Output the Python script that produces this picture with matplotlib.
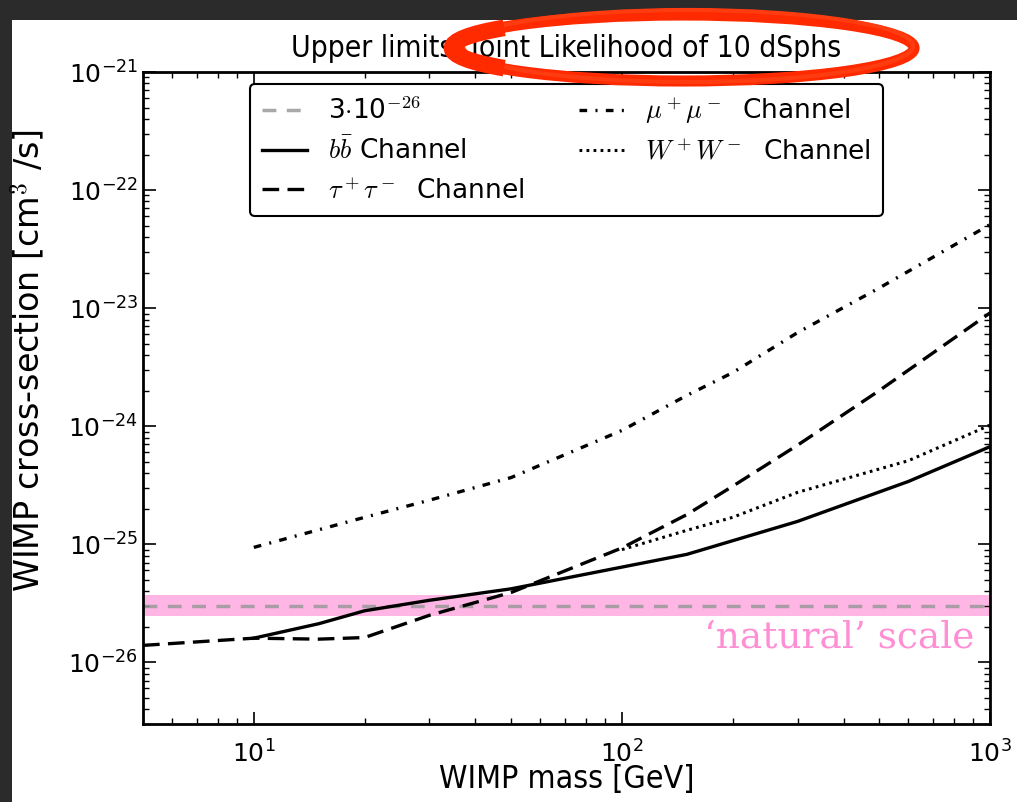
import matplotlib
matplotlib.use("Agg")
import matplotlib.pyplot as plt
from matplotlib.patches import Arc, Ellipse, Rectangle

plt.rcParams["mathtext.fontset"] = "cm"
plt.rcParams["font.family"] = "DejaVu Sans"

# upper limits (WIMP mass in GeV, cross-section in cm^3/s)
mass_bb = [10, 15, 20, 30, 50, 100, 150, 300, 600, 1000]
sigma_bb = [1.6e-26, 2.12e-26, 2.73e-26, 3.35e-26, 4.19e-26, 6.4e-26, 8.2e-26, 1.56e-25, 3.4e-25, 6.7e-25]

mass_tau = [5, 10, 15, 20, 30, 50, 100, 150, 200, 300, 500, 1000]
sigma_tau = [1.39e-26, 1.6e-26, 1.57e-26, 1.62e-26, 2.5e-26, 3.9e-26, 9.3e-26, 1.78e-25, 3.1e-25, 6.9e-25, 2.0e-24, 9.1e-24]

mass_mumu = [10, 20, 30, 50, 100, 150, 200, 300, 500, 1000]
sigma_mumu = [9.4e-26, 1.69e-25, 2.36e-25, 3.67e-25, 9.2e-25, 1.82e-24, 2.84e-24, 6.2e-24, 1.48e-23, 5.1e-23]

mass_ww = [100, 150, 200, 300, 600, 1000]
sigma_ww = [9.0e-26, 1.31e-25, 1.69e-25, 2.75e-25, 5.1e-25, 1.02e-24]

natural_xsec = 3e-26
band_low, band_high = 2.45e-26, 3.75e-26

fig = plt.figure(figsize=(10.17, 8.02), dpi=100, facecolor="#2b2b2b")
fig.patches.append(Rectangle((12 / 1017, 0), 1, 1 - 20 / 802, transform=fig.transFigure,
                             facecolor="white", edgecolor="none", zorder=-10))
ax = fig.add_axes([143 / 1017, 1 - 724 / 802, 847 / 1017, 652 / 802])

ax.axhspan(band_low, band_high, color="#ffb6e4", lw=0, zorder=1)
ax.axhline(natural_xsec, color="#999999", lw=2.5, ls=(0, (4, 3)), alpha=0.85, zorder=2,
           label=r"3$\cdot$10$^{-26}$")
ax.plot(mass_bb, sigma_bb, color="black", lw=2.4, label=r"$b\bar{b}$ Channel", zorder=3)
ax.plot(mass_tau, sigma_tau, color="black", lw=2.4, ls=(0, (5, 2.5)),
        label=r"$\tau^+\tau^-$  Channel", zorder=3)
ax.plot(mass_mumu, sigma_mumu, color="black", lw=2.4, ls=(0, (2.3, 2.5, 0.6, 2.5)),
        label=r"$\mu^+\mu^-$  Channel", zorder=3)
ax.plot(mass_ww, sigma_ww, color="black", lw=2.2, ls=(0, (0.9, 1.4)),
        label=r"$W^+W^-$  Channel", zorder=3)

ax.text(0.982, 1.63e-26, "\u2018natural\u2019 scale", transform=ax.get_yaxis_transform(),
        ha="right", va="center", fontsize=27, color="#ff8fd5", family="DejaVu Serif")

ax.set_xscale("log")
ax.set_yscale("log")
ax.set_xlim(5, 1000)
ax.set_ylim(3e-27, 1e-21)
for s in ax.spines.values():
    s.set_linewidth(2)
ax.tick_params(which="both", direction="in", top=True, right=True, labelsize=18)
ax.tick_params(which="major", length=9, width=1.2)
ax.tick_params(which="minor", length=4.5, width=1)
ax.tick_params(axis="x", pad=12)

ax.set_xlabel("WIMP mass [GeV]", fontsize=23, fontstretch="condensed")
ax.xaxis.set_label_coords(0.5, -0.061)
ax.set_ylabel(r"WIMP cross-section [cm$^3$ /s]", fontsize=24)
ax.yaxis.set_label_coords(-0.113, 0.558)
ax.set_title("Upper limits: Joint Likelihood of 10 dSphs", fontsize=21.5, pad=11,
             fontstretch="condensed")

leg = ax.legend(loc="upper center", bbox_to_anchor=(0.5, 0.982), borderaxespad=0, ncol=2,
                fontsize=19, fancybox=True, framealpha=1, edgecolor="black",
                columnspacing=2.1, handlelength=1.7, handletextpad=0.8, labelspacing=0.5,
                borderpad=0.45)
leg.get_frame().set_linewidth(1.5)

fig.patches.append(Ellipse((683 / 1017, 1 - 48 / 802), 462 / 1017, 66 / 802,
                           transform=fig.transFigure, fill=False, edgecolor="#ff2a00",
                           lw=8, zorder=10))
fig.patches.append(Ellipse((688 / 1017, 1 - 46 / 802), 450 / 1017, 72 / 802,
                           transform=fig.transFigure, fill=False, edgecolor="#ff3c10",
                           lw=3, zorder=10))
fig.patches.append(Arc((686 / 1017, 1 - 48 / 802), 468 / 1017, 64 / 802,
                       theta1=172, theta2=188, transform=fig.transFigure,
                       edgecolor="#ff2a00", lw=12, zorder=10))

fig.savefig("out.png", dpi=100, facecolor=fig.get_facecolor())
